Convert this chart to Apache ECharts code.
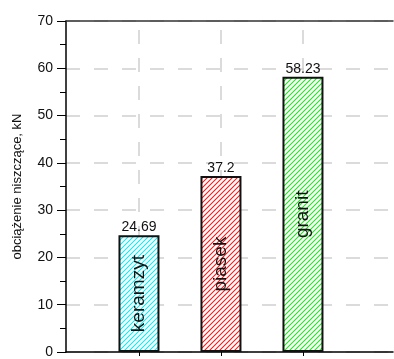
<!DOCTYPE html>
<html>
<head>
<meta charset="utf-8">
<script src="https://cdn.jsdelivr.net/npm/echarts@6/dist/echarts.min.js"></script>
<style>
  html, body { margin: 0; padding: 0; background: #fff; }
  #chart { width: 394px; height: 359px; }
</style>
</head>
<body>
<div id="chart"></div>
<script>
// Aggregate types and their failure loads
const categories = ['keramzyt', 'piasek', 'granit'];
const loads = [24.69, 37.2, 58.23];
const positions = [1, 2, 3];
const hatchColors = ['#00eef6', '#ff1414', '#14ea14'];
const yTicks = [0, 10, 20, 30, 40, 50, 60, 70];

const FONT = '"Liberation Sans", Arial, sans-serif';

// Diagonal "/" hatch tile on white ground
function hatch(color) {
  const s = 5;
  const c = document.createElement('canvas');
  c.width = s; c.height = s;
  const g = c.getContext('2d');
  g.fillStyle = '#fff';
  g.fillRect(0, 0, s, s);
  g.strokeStyle = color;
  g.lineWidth = 1.1;
  g.beginPath();
  g.moveTo(-1, s + 1); g.lineTo(s + 1, -1);
  g.moveTo(-1, 1); g.lineTo(1, -1);
  g.moveTo(s - 1, s + 1); g.lineTo(s + 1, s - 1);
  g.stroke();
  return c;
}

const barData = categories.map((name, i) => ({
  value: [positions[i], loads[i]],
  name: name,
  itemStyle: { color: { image: hatch(hatchColors[i]), repeat: 'repeat' } }
}));

const nameData = categories.map((name, i) => ({
  value: [positions[i], loads[i]],
  name: name
}));

const chart = echarts.init(document.getElementById('chart'), null, { renderer: 'canvas' });

chart.setOption({
  animation: false,
  backgroundColor: '#fff',
  grid: { left: 66, right: 1, top: 21, bottom: 3, containLabel: false },
  xAxis: [{
    type: 'value',
    min: 0.11,
    max: 4.098,
    axisLine: { show: true, onZero: false, lineStyle: { color: '#000', width: 1.5 } },
    axisTick: { show: true, customValues: positions, length: 4, lineStyle: { color: '#000', width: 1 } },
    axisLabel: { show: false },
    splitLine: {
      show: true,
      lineStyle: { color: '#cfcfcf', width: 1.5, type: [14, 14], dashOffset: 19 }
    }
  }, {
    type: 'value',
    position: 'top',
    min: 0.11,
    max: 4.098,
    axisLine: { show: true, onZero: false, lineStyle: { color: '#333', width: 1.5 } },
    axisTick: { show: false },
    axisLabel: { show: false },
    splitLine: { show: false }
  }],
  yAxis: {
    type: 'value',
    min: yTicks[0],
    max: yTicks[yTicks.length - 1],
    interval: 10,
    name: 'obciążenie niszczące, kN',
    nameLocation: 'middle',
    nameGap: 42,
    nameTextStyle: { fontFamily: FONT, fontSize: 13, color: '#111' },
    axisLine: { show: true, lineStyle: { color: '#000', width: 1.5 } },
    axisTick: { show: true, length: 9, lineStyle: { color: '#000', width: 1 } },
    minorTick: { show: true, splitNumber: 2, length: 6, lineStyle: { color: '#000', width: 1 } },
    axisLabel: { fontFamily: FONT, fontSize: 14, color: '#111', margin: 13 },
    splitLine: {
      show: true,
      lineStyle: { color: '#cfcfcf', width: 1.5, type: [14, 14] }
    }
  },
  series: [{
    type: 'bar',
    xAxisIndex: 0,
    barWidth: 41,
    z: 3,
    data: barData,
    itemStyle: { borderColor: '#111', borderWidth: 2 },
    label: {
      show: true,
      position: 'top',
      distance: 1,
      fontFamily: FONT,
      fontSize: 14,
      color: '#111',
      formatter: p => String(p.value[1])
    }
  }, {
    type: 'bar',
    xAxisIndex: 0,
    barWidth: 41,
    barGap: '-100%',
    z: 4,
    data: nameData,
    itemStyle: { color: 'rgba(0,0,0,0)' },
    label: {
      show: true,
      position: 'inside',
      rotate: 90,
      fontFamily: FONT,
      fontSize: 19,
      color: '#111',
      formatter: p => p.name
    },
    silent: true
  }]
});
</script>
</body>
</html>
